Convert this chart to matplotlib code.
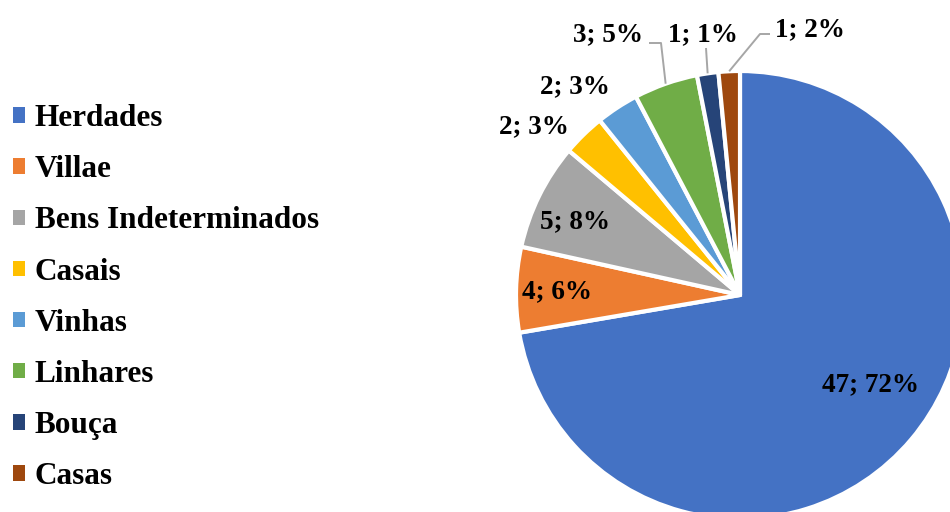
import matplotlib
matplotlib.use("Agg")
import matplotlib.pyplot as plt
from matplotlib.patches import Patch
import numpy as np

categories = ["Herdades", "Villae", "Bens Indeterminados", "Casais", "Vinhas",
              "Linhares", "Bouça", "Casas"]
counts = [47, 4, 5, 2, 2, 3, 1, 1]
pct_labels = ["72%", "6%", "8%", "3%", "3%", "5%", "1%", "2%"]
colors = ["#4472C4", "#ED7D31", "#A5A5A5", "#FFC000", "#5B9BD5",
          "#70AD47", "#264478", "#9E480E"]

W, H, DPI = 950, 512, 100
CX, CY, R = 740, 295, 224  # pie centre / radius in pixels

def px(x, y):
    return ((x - CX) / R, (CY - y) / R)

fig = plt.figure(figsize=(W / DPI, H / DPI), dpi=DPI)
ax = fig.add_axes([0, 0, 1, 1])

wedges, _ = ax.pie(counts, colors=colors, startangle=90, counterclock=False,
                   radius=1.0, center=(0, 0),
                   wedgeprops=dict(edgecolor="white", linewidth=3))
ax.set_aspect("auto")
ax.set_xlim(-CX / R, (W - CX) / R)
ax.set_ylim(-(H - CY) / R, CY / R)
ax.axis("off")

font = dict(family="Liberation Serif", weight="bold", size=19.5)

# label positions (pixel layout) for each slice
label_pos = [(871, 385), (557, 292), (575, 222), (534, 127), (575, 87),
             (608, 35), (703, 35), (810, 30)]
for i, (c, p) in enumerate(zip(counts, pct_labels)):
    x, y = px(*label_pos[i])
    ax.text(x, y, f"{c}; {p}", ha="center", va="center", **font)

# leader lines for the small slices
total = sum(counts)
cum = np.cumsum([0] + counts)
def mid_point(i):
    frac = (cum[i] + counts[i] / 2) / total
    ang = np.deg2rad(90 - 360 * frac)
    return np.cos(ang), np.sin(ang)

leaders = {5: [(661, 43), (649, 43)], 6: [(706, 48)], 7: [(760, 34), (770, 34)]}
for i, pts in leaders.items():
    x0, y0 = mid_point(i)
    xs = [x0] + [px(*p)[0] for p in pts]
    ys = [y0] + [px(*p)[1] for p in pts]
    ax.plot(xs, ys, color="#A6A6A6", lw=1.4, solid_capstyle="butt")

handles = [Patch(facecolor=c, edgecolor="none") for c in colors]
fig.legend(handles, categories, loc="upper left",
           bbox_to_anchor=(13 / W, 1 - 104 / H), frameon=False,
           prop=dict(family="Liberation Serif", weight="bold", size=22.5),
           handlelength=0.38, handleheight=0.38, handletextpad=0.32,
           labelspacing=0.71, borderaxespad=0, borderpad=0)

fig.savefig("out.png", dpi=DPI)
